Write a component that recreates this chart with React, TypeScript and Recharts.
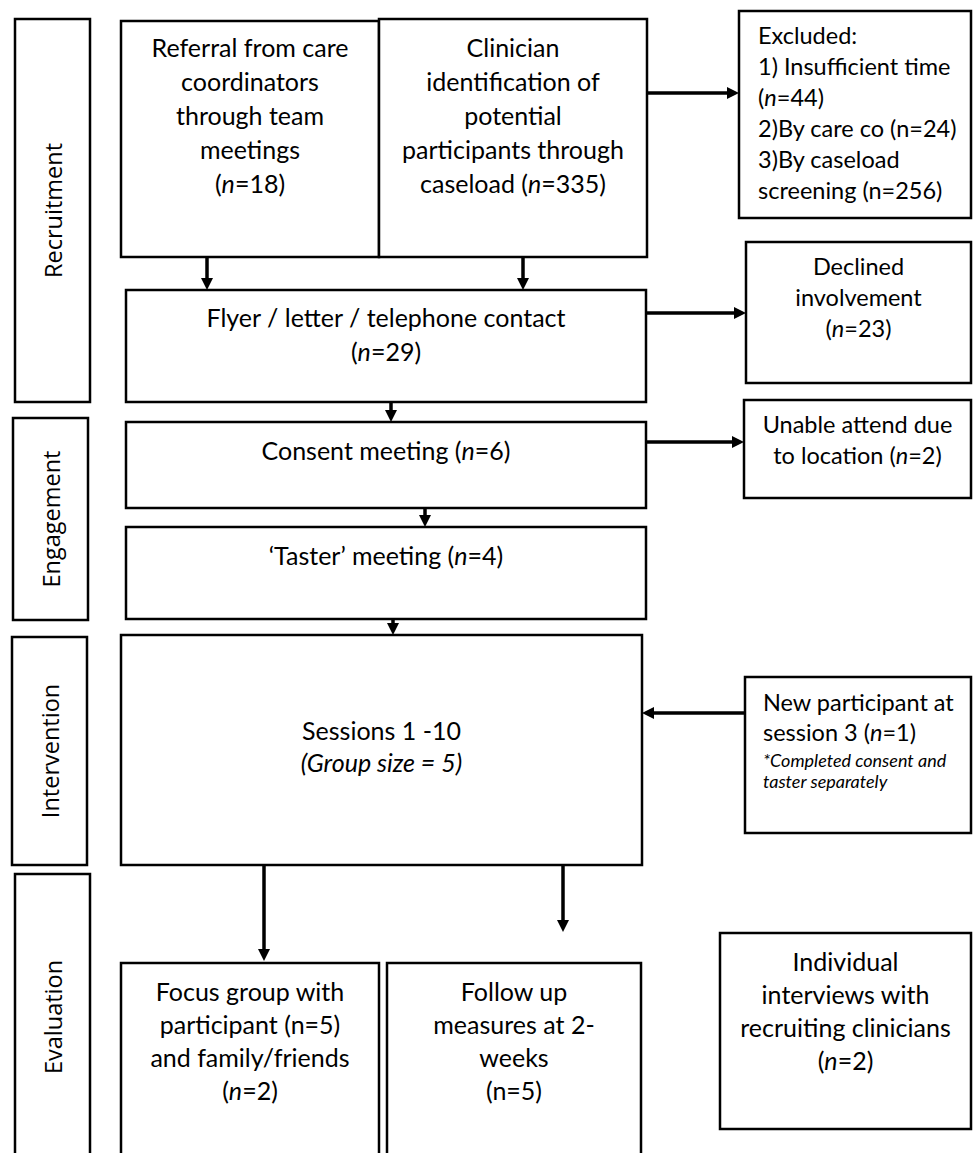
import { ComposedChart, XAxis, YAxis, ReferenceArea, ReferenceLine } from 'recharts';

// stage names down the left side
const STAGES = ['Recruitment', 'Engagement', 'Intervention', 'Evaluation'];

// box texts, _n_ marks italic
const REFERRAL = ['Referral from care', 'coordinators', 'through team', 'meetings', '(_n_=18)'];
const CLINICIAN = ['Clinician', 'identification of', 'potential', 'participants through', 'caseload (_n_=335)'];
const EXCLUDED = ['Excluded:', '1) Insufficient time', '(_n_=44)', '2)By care co (n=24)', '3)By caseload', 'screening (n=256)'];
const CONTACT = ['Flyer / letter / telephone contact', '(_n_=29)'];
const DECLINED = ['Declined', 'involvement', '(_n_=23)'];
const CONSENT = ['Consent meeting (_n_=6)'];
const UNABLE = ['Unable attend due', 'to location (_n_=2)'];
const TASTER = ['\u2018Taster\u2019 meeting (_n_=4)'];
const SESSIONS = ['Sessions 1 -10', '_(Group size = 5)_'];
const NEW_PARTICIPANT = ['New participant at', 'session 3 (_n_=1)'];
const NEW_NOTE = ['_*Completed consent and_', '_taster separately_'];
const FOCUS = ['Focus group with', 'participant (n=5)', 'and family/friends', '(_n_=2)'];
const FOLLOW_UP = ['Follow up', 'measures at 2-', 'weeks', '(n=5)'];
const INTERVIEWS = ['Individual', 'interviews with', 'recruiting clinicians', '(_n_=2)'];

const W = 973;
const H = 1153;
const FONT = 'Lato, "Open Sans", sans-serif';
const BIG = 25;
const SMALL = 23.5;

// layout in page pixels
const STAGE_BOXES = [
  [15, 90, 19, 402],
  [13, 88, 418, 620],
  [12, 87, 637, 865],
  [15, 90, 874, 1160],
];

type Block = { lines: string[]; dy: number; gap: number; size: number; inset?: number };
type Box = { x1: number; x2: number; y1: number; y2: number; blocks: Block[] };

const BOXES: Box[] = [
  { x1: 121, x2: 379, y1: 21, y2: 257, blocks: [{ lines: REFERRAL, dy: 27, gap: 34, size: BIG }] },
  { x1: 379, x2: 647, y1: 19, y2: 257, blocks: [{ lines: CLINICIAN, dy: 29, gap: 34, size: BIG }] },
  { x1: 739, x2: 971, y1: 11, y2: 218, blocks: [{ lines: EXCLUDED, dy: 25, gap: 31, size: SMALL, inset: 19 }] },
  { x1: 126, x2: 646, y1: 290, y2: 402, blocks: [{ lines: CONTACT, dy: 28, gap: 34, size: BIG }] },
  { x1: 746, x2: 971, y1: 242, y2: 383, blocks: [{ lines: DECLINED, dy: 25, gap: 31, size: SMALL }] },
  { x1: 126, x2: 646, y1: 422, y2: 508, blocks: [{ lines: CONSENT, dy: 29, gap: 34, size: BIG }] },
  { x1: 744, x2: 971, y1: 400, y2: 498, blocks: [{ lines: UNABLE, dy: 25, gap: 31, size: SMALL }] },
  { x1: 126, x2: 646, y1: 527, y2: 619, blocks: [{ lines: TASTER, dy: 29, gap: 34, size: BIG }] },
  { x1: 121, x2: 642, y1: 635, y2: 865, blocks: [{ lines: SESSIONS, dy: 96, gap: 32, size: BIG }] },
  {
    x1: 745, x2: 971, y1: 677, y2: 833,
    blocks: [
      { lines: NEW_PARTICIPANT, dy: 26, gap: 30, size: SMALL, inset: 18 },
      { lines: NEW_NOTE, dy: 84, gap: 21, size: 18, inset: 18 },
    ],
  },
  { x1: 121, x2: 379, y1: 963, y2: 1160, blocks: [{ lines: FOCUS, dy: 29, gap: 33, size: BIG }] },
  { x1: 387, x2: 641, y1: 963, y2: 1160, blocks: [{ lines: FOLLOW_UP, dy: 29, gap: 33, size: BIG }] },
  { x1: 720, x2: 971, y1: 933, y2: 1129, blocks: [{ lines: INTERVIEWS, dy: 29, gap: 33, size: BIG }] },
];

const ARROWS = [
  [207, 257, 207, 290],
  [523, 257, 523, 290],
  [647, 93, 739, 93],
  [646, 313, 746, 313],
  [391, 402, 391, 422],
  [647, 442, 744, 442],
  [425, 508, 425, 527],
  [393, 619, 393, 635],
  [745, 713, 642, 713],
  [264, 865, 264, 961],
  [563, 865, 563, 932],
];

function rich(line: string) {
  return line.split('_').map((part, i) =>
    i % 2 === 1 ? (
      <tspan key={i} fontStyle="italic">
        {part}
      </tspan>
    ) : (
      <tspan key={i}>{part}</tspan>
    ),
  );
}

function BoxText(props: any) {
  const { viewBox, blocks } = props;
  const { x, y, width } = viewBox;
  return (
    <g>
      {blocks.map((b: Block, bi: number) => {
        const left = b.inset !== undefined;
        const tx = left ? x + b.inset! : x + width / 2;
        return (
          <text
            key={bi}
            textAnchor={left ? 'start' : 'middle'}
            fontFamily={FONT}
            fontSize={b.size}
            fill="#000"
          >
            {b.lines.map((l, i) => (
              <tspan key={i} x={tx} y={y + b.dy + i * b.gap + b.size * 0.35}>
                {rich(l)}
              </tspan>
            ))}
          </text>
        );
      })}
    </g>
  );
}

function StageText(props: any) {
  const { viewBox, value } = props;
  const cx = viewBox.x + viewBox.width / 2;
  const cy = viewBox.y + viewBox.height / 2;
  return (
    <text
      x={cx}
      y={cy}
      transform={`rotate(-90 ${cx} ${cy})`}
      textAnchor="middle"
      dominantBaseline="central"
      fontFamily='"Open Sans", sans-serif'
      fontSize={23.5}
      fill="#000"
    >
      {value}
    </text>
  );
}

function Arrow(props: any) {
  const { x1, y1, x2, y2 } = props;
  const dx = x2 - x1;
  const dy = y2 - y1;
  const len = Math.hypot(dx, dy) || 1;
  const ux = dx / len;
  const uy = dy / len;
  const head = 12;
  const half = 6;
  const bx = x2 - ux * head;
  const by = y2 - uy * head;
  const pts = `${x2},${y2} ${bx - uy * half},${by + ux * half} ${bx + uy * half},${by - ux * half}`;
  return (
    <g>
      <line x1={x1} y1={y1} x2={bx} y2={by} stroke="#000" strokeWidth={3.5} />
      <polygon points={pts} fill="#000" />
    </g>
  );
}

export default function App() {
  return (
    <div style={{ width: W, height: H, background: '#fff' }}>
      <style>{'body{margin:0;background:#fff}'}</style>
      <ComposedChart width={W} height={H} margin={{ top: 0, right: 0, bottom: 0, left: 0 }}>
        <XAxis type="number" dataKey="x" domain={[0, W]} allowDataOverflow hide />
        <YAxis type="number" dataKey="y" domain={[0, H]} allowDataOverflow reversed hide />

        {STAGES.map((name, i) => {
          const [x1, x2, y1, y2] = STAGE_BOXES[i];
          return (
            <ReferenceArea
              key={name}
              x1={x1}
              x2={x2}
              y1={y1}
              y2={y2}
              ifOverflow="visible"
              fill="#fff"
              fillOpacity={1}
              stroke="#000"
              strokeWidth={2.5}
              label={<StageText value={name} />}
            />
          );
        })}

        {BOXES.map((b, i) => (
          <ReferenceArea
            key={i}
            x1={b.x1}
            x2={b.x2}
            y1={b.y1}
            y2={b.y2}
            ifOverflow="visible"
            fill="#fff"
            fillOpacity={1}
            stroke="#000"
            strokeWidth={2.5}
            label={<BoxText blocks={b.blocks} />}
          />
        ))}

        {ARROWS.map(([x1, y1, x2, y2], i) => (
          <ReferenceLine
            key={i}
            segment={[
              { x: x1, y: y1 },
              { x: x2, y: y2 },
            ]}
            ifOverflow="visible"
            shape={(p: any) => <Arrow {...p} />}
          />
        ))}
      </ComposedChart>
    </div>
  );
}
